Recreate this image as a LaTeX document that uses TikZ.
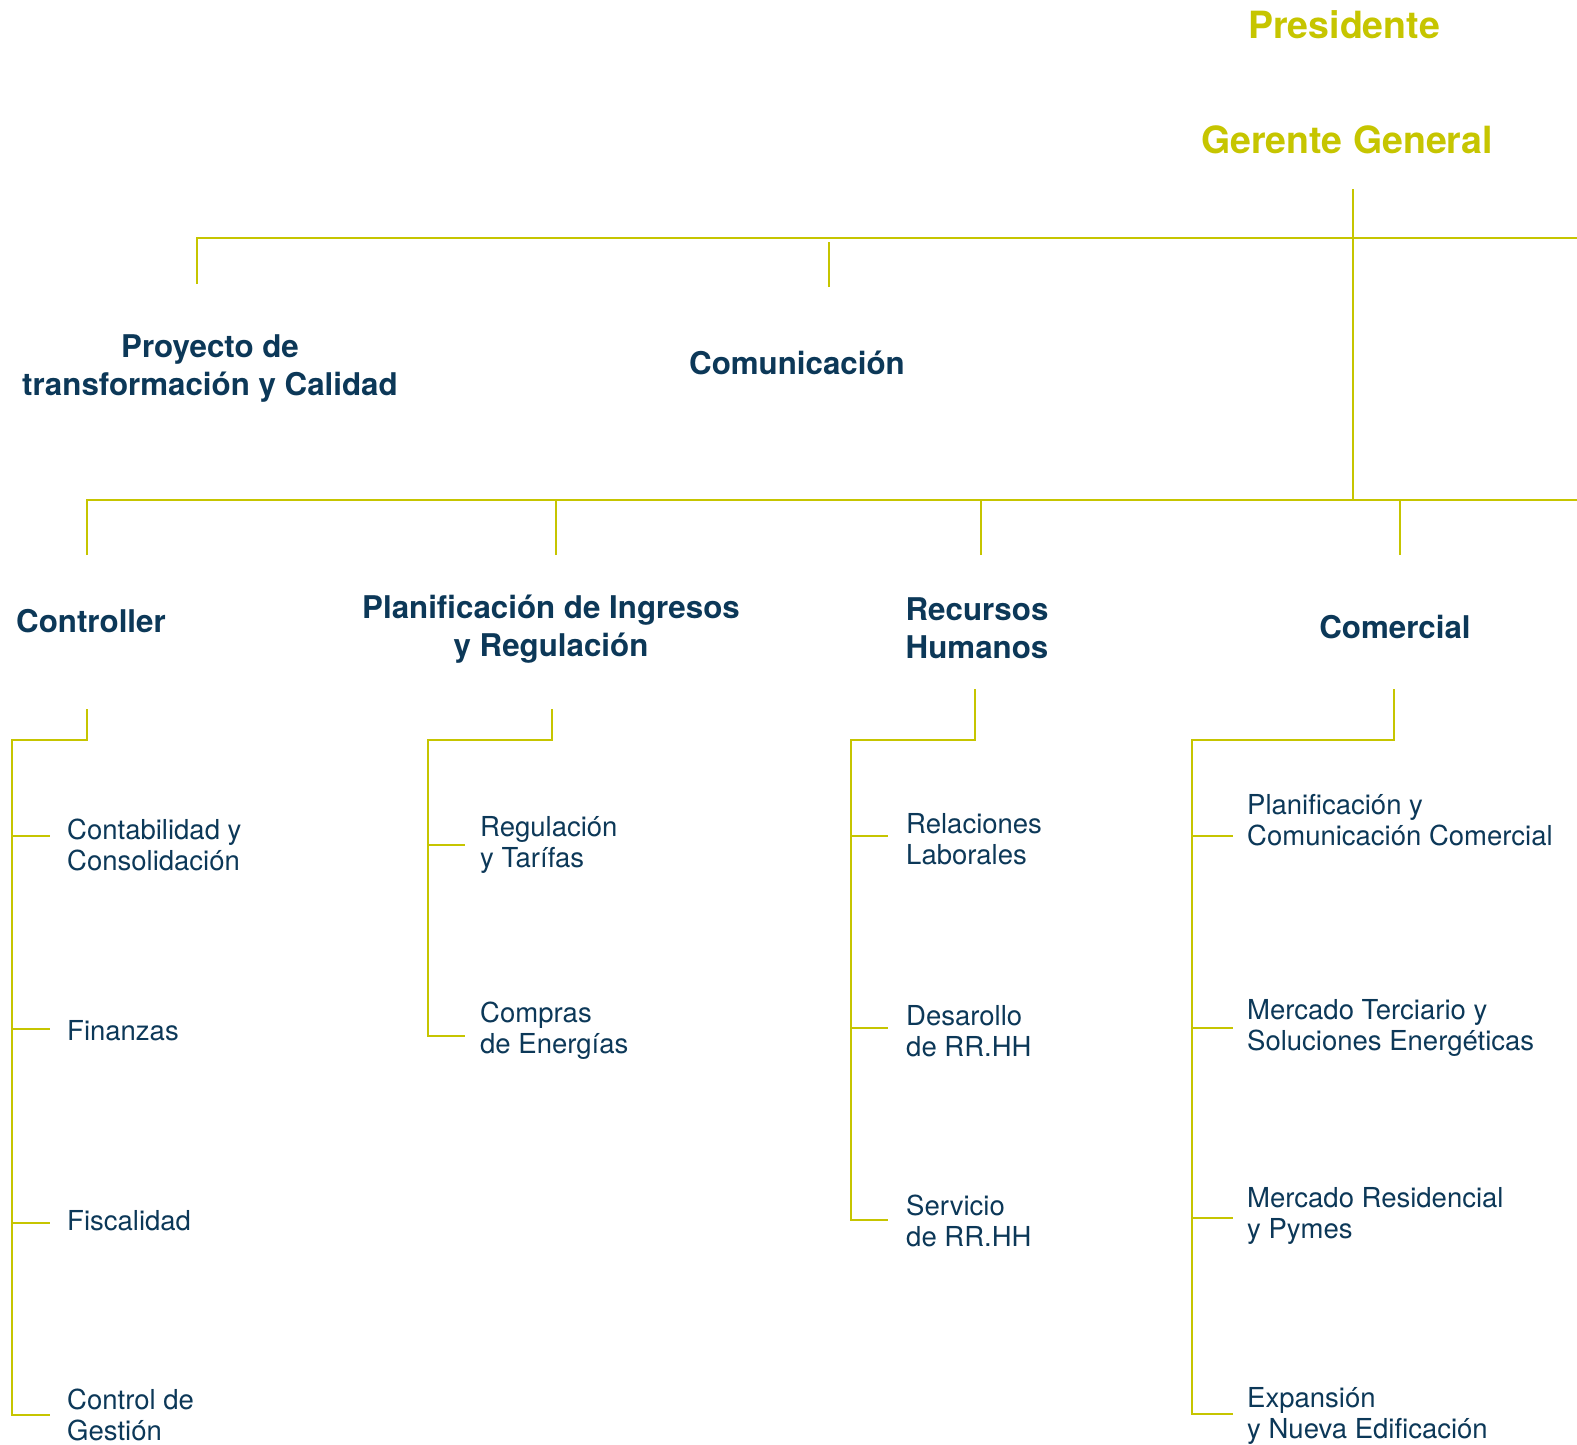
\documentclass[tikz,border=0pt]{standalone}
\usepackage{fontspec}
\setmainfont{TeX Gyre Heros}
\usepackage{xcolor}
\usepackage{tikz}
\usetikzlibrary{positioning}
\definecolor{linegold}{RGB}{198,197,0}
\definecolor{textnavy}{RGB}{12,56,88}

\begin{document}
\begin{tikzpicture}[
  x=1pt, y=-1pt,
  top/.style={text=linegold, font=\bfseries\fontsize{37.5}{40}\selectfont, inner sep=0pt},
  head/.style={text=textnavy, font=\bfseries\fontsize{31.3}{38}\selectfont, align=center, inner sep=0pt},
  sub/.style={text=textnavy, font=\fontsize{27.5}{31}\selectfont, align=left, anchor=west, inner sep=0pt},
  link/.style={draw=linegold, line width=1.8pt}
]
\useasboundingbox (0,0) rectangle (1577,1445);

% top of the chart
\node[top] (pres) at (1344,25) {Presidente};
\node[top] (gg) at (1347,140) {Gerente General};
\node[head] (proy) at (210,369) {Proyecto de\\transformación y Calidad};
\node[head] (com) at (797,363) {Comunicación};

% direcciones
\node[head] (ctrl) at (91,621) {Controller};
\node[head] (plan) at (551,629) {Planificación de Ingresos\\y Regulación};
\node[head] (rrhh) at (977,628) {Recursos\\Humanos};
\node[head] (comer) at (1395,627) {Comercial};

% areas
\node[sub] (conta) at (67,845) {Contabilidad y\\Consolidación};
\node[sub] (fin) at (67,1031) {Finanzas};
\node[sub] (fisc) at (67,1221) {Fiscalidad};
\node[sub] (gest) at (67,1415) {Control de\\Gestión};

\node[sub] (regul) at (480,845) {Regulación\\y Tarífas};
\node[sub] (compr) at (480,1031) {Compras\\de Energías};

\node[sub] (rel) at (906,839) {Relaciones\\Laborales};
\node[sub] (desa) at (906,1031) {Desarollo\\de RR.HH};
\node[sub] (serv) at (906,1221) {Servicio\\de RR.HH};

\node[sub] (pcom) at (1247,820) {Planificación y\\Comunicación Comercial};
\node[sub] (terc) at (1247,1028) {Mercado Terciario y\\Soluciones Energéticas};
\node[sub] (resid) at (1247,1216) {Mercado Residencial\\y Pymes};
\node[sub] (expa) at (1247,1416) {Expansión\\y Nueva Edificación};

% junctions
\coordinate (ggout) at (1353,189);
\coordinate (busA) at (1577,238);
\coordinate (busB) at (1577,500);
\coordinate (proyin) at (197,284);
\coordinate (comin) at (829,287);
\coordinate (ctrlin) at (87,555);
\coordinate (planin) at (556,555);
\coordinate (rrhhin) at (981,555);
\coordinate (comerin) at (1400,555);
\coordinate (ctrlout) at (87,709);
\coordinate (planout) at (552,709);
\coordinate (rrhhout) at (975,689);
\coordinate (comerout) at (1394,689);
\coordinate (cspine) at (12,740);
\coordinate (pspine) at (428,740);
\coordinate (rspine) at (851,740);
\coordinate (kspine) at (1192,740);

\draw[link] (proyin) |- (busA);
\draw[link] (comin) -- ([yshift=-4pt]comin |- busA);
\draw[link] (ggout) -- (ggout |- busB);
\draw[link] (ctrlin) |- (busB);
\draw[link] (planin) -- (planin |- busB);
\draw[link] (rrhhin) -- (rrhhin |- busB);
\draw[link] (comerin) -- (comerin |- busB);

% Controller
\draw[link] (ctrlout) |- (cspine) -- (12,1415) -- ++(38,0);
\foreach \y in {836,1029,1223} \draw[link] (12,\y) -- ++(38,0);

% Planificacion
\draw[link] (planout) |- (pspine) -- (428,1036) -- ++(37,0);
\draw[link] (428,845) -- ++(37,0);

% Recursos Humanos
\draw[link] (rrhhout) |- (rspine) -- (851,1220) -- ++(37,0);
\foreach \y in {836,1028} \draw[link] (851,\y) -- ++(37,0);

% Comercial
\draw[link] (comerout) |- (kspine) -- (1192,1414) -- ++(41,0);
\foreach \y in {836,1028,1218} \draw[link] (1192,\y) -- ++(41,0);
\end{tikzpicture}
\end{document}
